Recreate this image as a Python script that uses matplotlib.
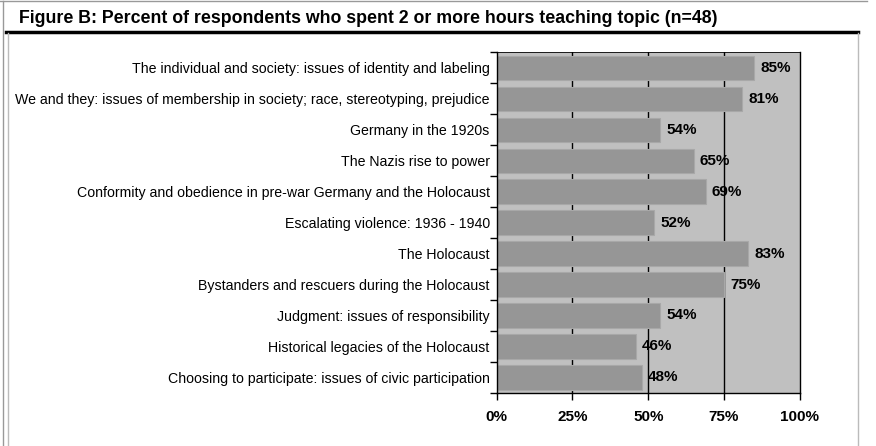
import matplotlib.pyplot as plt
from matplotlib.lines import Line2D
import numpy as np

plt.rcParams['font.family'] = ['Liberation Sans', 'DejaVu Sans']

topics = ['The individual and society: issues of identity and labeling',
          'We and they: issues of membership in society; race, stereotyping, prejudice',
          'Germany in the 1920s',
          'The Nazis rise to power',
          'Conformity and obedience in pre-war Germany and the Holocaust',
          'Escalating violence: 1936 - 1940',
          'The Holocaust',
          'Bystanders and rescuers during the Holocaust',
          'Judgment: issues of responsibility',
          'Historical legacies of the Holocaust',
          'Choosing to participate: issues of civic participation']
pct = [85, 81, 54, 65, 69, 52, 83, 75, 54, 46, 48]
xticks = [0, 25, 50, 75, 100]

fig = plt.figure(figsize=(8.76, 4.46), dpi=100)
ax = fig.add_axes([0.567, 0.119, 0.346, 0.764])
ax.set_facecolor('#c0c0c0')

y = np.arange(len(topics))
ax.barh(y, pct, height=0.78, color='#969696', edgecolor='#a8a8a8', linewidth=0.8, zorder=2)
for v, yy in zip(pct, y):
    ax.text(v + 2, yy, str(v) + '%', va='center', ha='left', fontsize=11,
            fontweight='bold', zorder=3)

ax.set_xlim(0, 100)
ax.set_ylim(len(topics) - 0.5, -0.5)
ax.set_xticks(xticks)
ax.set_xticklabels([str(t) + '%' for t in xticks], fontweight='bold', fontsize=11)
ax.tick_params(axis='x', direction='out', length=5, width=1, pad=7)
for t in xticks[1:-1]:
    ax.axvline(t, color='black', linewidth=1, zorder=1)

ax.set_yticks(y)
ax.set_yticklabels(topics, fontsize=10.2)
ax.tick_params(axis='y', which='major', length=0, pad=5)
ax.set_yticks(np.arange(len(topics) + 1) - 0.5, minor=True)
ax.tick_params(axis='y', which='minor', direction='out', length=5, width=1)

for s in ax.spines.values():
    s.set_linewidth(1)
    s.set_color('black')
ax.spines['top'].set_linewidth(0.6)

fig.text(0.022, 0.958, 'Figure B: Percent of respondents who spent 2 or more hours teaching topic (n=48)',
         fontsize=12.8, fontweight='bold', va='center', ha='left')

# frame lines around the figure
fig.add_artist(Line2D([0.007, 0.98], [0.928, 0.928], color='black', linewidth=2.5))
fig.add_artist(Line2D([0.0, 0.99], [0.998, 0.998], color='#999999', linewidth=1))
fig.add_artist(Line2D([0.003, 0.003], [0.0, 0.998], color='#999999', linewidth=1))
fig.add_artist(Line2D([0.009, 0.009], [0.0, 0.925], color='#bbbbbb', linewidth=1))
fig.add_artist(Line2D([0.979, 0.979], [0.0, 0.925], color='#bbbbbb', linewidth=1))

fig.savefig('out.png', dpi=100)
